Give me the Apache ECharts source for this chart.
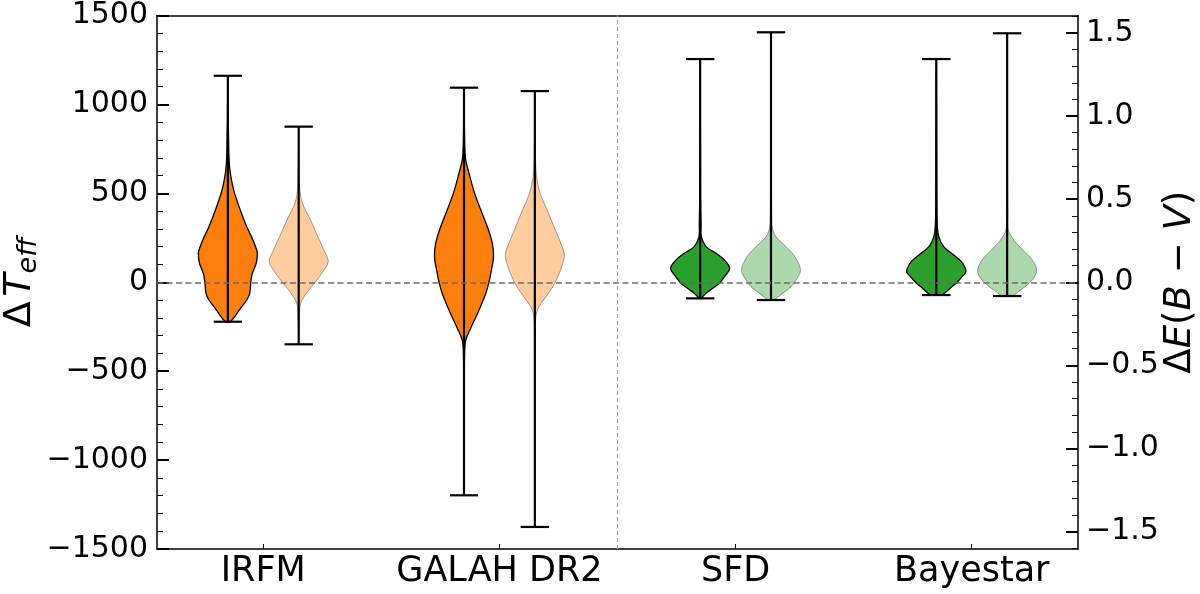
<!DOCTYPE html>
<html><head><meta charset="utf-8">
<script src="https://cdn.jsdelivr.net/npm/echarts@6/dist/echarts.min.js"></script>
<style>html,body{margin:0;padding:0;background:#fff}#c{width:1200px;height:594px}</style>
</head><body><div id="c"></div>
<script>
// ---- data ----
const categories = ['IRFM', 'GALAH DR2', 'SFD', 'Bayestar'];
const positions = [1, 2, 3, 4];
const leftTicks = [-1500, -1000, -500, 0, 500, 1000, 1500];
const rightTicks = [-1.5, -1.0, -0.5, 0, 0.5, 1.0, 1.5];
const rightMinorTicks = [-1.6,-1.4,-1.3,-1.2,-1.1,-0.9,-0.8,-0.7,-0.6,-0.4,-0.3,-0.2,-0.1,
  0.1,0.2,0.3,0.4,0.6,0.7,0.8,0.9,1.1,1.2,1.3,1.4,1.6];

// violin profiles: [value, relative half-width (1 = widest)]
const irfmDark = [[1161,0],[950,0.01],[800,0.025],[700,0.04],[631,0.07],[560,0.14],[500,0.23],[406,0.42],
  [312,0.64],[238,0.85],[190,0.96],[163,1.0],[106,0.96],[50,0.83],[3,0.78],[-62,0.74],[-100,0.64],
  [-137,0.47],[-170,0.33],[-194,0.23],[-222,0.07]];
const irfmLight = [[875,0],[700,0.01],[600,0.02],[519,0.04],[444,0.13],[350,0.4],[256,0.65],[172,0.88],
  [116,1.0],[59,0.82],[3,0.57],[-62,0.26],[-118,0.07],[-173,0.025],[-250,0.01],[-349,0]];
const galahDark = [[1094,0],[900,0.01],[744,0.03],[687,0.06],[594,0.2],[500,0.36],[406,0.57],[312,0.79],
  [219,0.96],[144,1.0],[69,0.93],[3,0.85],[-62,0.74],[-156,0.51],[-250,0.25],[-325,0.06],[-398,0.02],
  [-600,0.008],[-900,0.004],[-1198,0]];
const galahLight = [[1075,0],[850,0.01],[687,0.025],[594,0.06],[500,0.18],[406,0.42],[312,0.65],[219,0.88],
  [153,1.0],[87,0.91],[31,0.78],[-25,0.61],[-81,0.38],[-137,0.14],[-194,0.035],[-300,0.015],[-600,0.006],
  [-1000,0.003],[-1376,0]];
const sfdDark = [[1.343,0],[0.9,0.008],[0.5,0.015],[0.35,0.03],[0.274,0.04],[0.214,0.2],[0.174,0.54],
  [0.134,0.82],[0.084,1.0],[0.033,0.82],[-0.006,0.65],[-0.036,0.43],[-0.066,0.2],[-0.097,0.03]];
const sfdLight = [[1.504,0],[1.0,0.008],[0.6,0.015],[0.4,0.025],[0.334,0.04],[0.274,0.17],[0.214,0.51],
  [0.154,0.81],[0.074,1.0],[0.014,0.85],[-0.027,0.68],[-0.066,0.4],[-0.097,0.17],[-0.107,0.05]];
const bayDark = [[1.343,0],[0.9,0.008],[0.5,0.015],[0.334,0.035],[0.27,0.09],[0.214,0.25],[0.164,0.59],
  [0.124,0.85],[0.084,0.98],[0.06,1.0],[0.033,0.87],[-0.006,0.67],[-0.036,0.47],[-0.063,0.3],[-0.077,0.17]];
const bayLight = [[1.498,0],[1.0,0.008],[0.6,0.015],[0.4,0.025],[0.314,0.04],[0.254,0.23],[0.194,0.53],
  [0.134,0.85],[0.074,1.0],[0.024,0.9],[-0.016,0.68],[-0.047,0.45],[-0.077,0.23],[-0.083,0.12]];

// extrema [min, max]
const irfmDarkRange = [-222, 1161];
const irfmLightRange = [-349, 875];
const galahDarkRange = [-1198, 1094];
const galahLightRange = [-1376, 1075];
const sfdDarkRange = [-0.097, 1.343];
const sfdLightRange = [-0.107, 1.504];
const bayDarkRange = [-0.077, 1.343];
const bayLightRange = [-0.083, 1.498];

// ---- styling / layout ----
const FONT = 'DejaVu Sans';
const HALF = 0.125, CAP = 0.06, OFF = 0.15;
const ORANGE = '#ff7f0e', ORANGE_L = 'rgba(255,127,14,0.4)';
const GREEN = '#2ca02c', GREEN_L = 'rgba(44,160,44,0.4)';
const EDGE_L = 'rgba(0,0,0,0.35)';
const violins = [
  {pos: positions[0] - OFF, prof: irfmDark, range: irfmDarkRange, y: 0, fill: ORANGE, edge: '#000', ew: 1.3},
  {pos: positions[0] + OFF, prof: irfmLight, range: irfmLightRange, y: 0, fill: ORANGE_L, edge: EDGE_L, ew: 1},
  {pos: positions[1] - OFF, prof: galahDark, range: galahDarkRange, y: 0, fill: ORANGE, edge: '#000', ew: 1.3},
  {pos: positions[1] + OFF, prof: galahLight, range: galahLightRange, y: 0, fill: ORANGE_L, edge: EDGE_L, ew: 1},
  {pos: positions[2] - OFF, prof: sfdDark, range: sfdDarkRange, y: 1, fill: GREEN, edge: '#000', ew: 1.3},
  {pos: positions[2] + OFF, prof: sfdLight, range: sfdLightRange, y: 1, fill: GREEN_L, edge: EDGE_L, ew: 1},
  {pos: positions[3] - OFF, prof: bayDark, range: bayDarkRange, y: 1, fill: GREEN, edge: '#000', ew: 1.3},
  {pos: positions[3] + OFF, prof: bayLight, range: bayLightRange, y: 1, fill: GREEN_L, edge: EDGE_L, ew: 1}
];

const minus = s => String(s).replace('-', '\u2212');

const series = violins.map(vl => ({
  type: 'custom',
  xAxisIndex: 0,
  yAxisIndex: vl.y,
  data: [[vl.pos, vl.range[1]]],
  z: 2,
  silent: true,
  renderItem: function (params, api) {
    const pts = [];
    vl.prof.forEach(p => pts.push(api.coord([vl.pos + p[1] * HALF, p[0]])));
    for (let i = vl.prof.length - 1; i >= 0; i--) {
      const p = vl.prof[i];
      pts.push(api.coord([vl.pos - p[1] * HALF, p[0]]));
    }
    const top = api.coord([vl.pos, vl.range[1]]);
    const bot = api.coord([vl.pos, vl.range[0]]);
    const tl = api.coord([vl.pos - CAP, vl.range[1]]), tr = api.coord([vl.pos + CAP, vl.range[1]]);
    const bl = api.coord([vl.pos - CAP, vl.range[0]]), br = api.coord([vl.pos + CAP, vl.range[0]]);
    return {
      type: 'group',
      children: [
        {type: 'polygon', shape: {points: pts, smooth: 0.35}, style: {fill: vl.fill, stroke: vl.edge, lineWidth: vl.ew}},
        {type: 'line', shape: {x1: top[0], y1: top[1], x2: bot[0], y2: bot[1]}, style: {stroke: '#000', lineWidth: 2.2}},
        {type: 'line', shape: {x1: tl[0], y1: tl[1], x2: tr[0], y2: tr[1]}, style: {stroke: '#000', lineWidth: 2.2}},
        {type: 'line', shape: {x1: bl[0], y1: bl[1], x2: br[0], y2: br[1]}, style: {stroke: '#000', lineWidth: 2.2}}
      ]
    };
  }
}));

// reference lines
series.push({
  type: 'line', xAxisIndex: 0, yAxisIndex: 0, data: [], z: 5, silent: true,
  markLine: {
    silent: true, symbol: 'none', label: {show: false}, animation: false,
    data: [
      {yAxis: 0, lineStyle: {color: '#6a6a6a', width: 1.5, type: [6, 3.5]}},
      {xAxis: 2.5, lineStyle: {color: '#a8a8a8', width: 1.2, type: [4, 3]}}
    ]
  }
});

const chart = echarts.init(document.getElementById('c'), null, {renderer: 'canvas'});
chart.setOption({
  animation: false,
  backgroundColor: '#fff',
  textStyle: {fontFamily: FONT},
  grid: {left: 157, right: 122, top: 15.5, bottom: 45, outerBoundsMode: 'none', containLabel: false},
  xAxis: [
    {
      type: 'value', min: 0.55, max: 4.45, position: 'bottom',
      axisLine: {show: true, onZero: false, lineStyle: {color: '#000', width: 1.5}},
      axisTick: {show: true, inside: true, length: 5, customValues: positions, lineStyle: {color: '#000', width: 1}},
      axisLabel: {show: true, customValues: positions, formatter: v => categories[Math.round(v) - 1] || '',
        fontSize: 35, color: '#000', fontFamily: FONT, margin: 5},
      splitLine: {show: false}
    },
    {
      type: 'value', min: 0.55, max: 4.45, position: 'top',
      axisLine: {show: true, onZero: false, lineStyle: {color: '#000', width: 1.5}},
      axisTick: {show: false}, axisLabel: {show: false}, splitLine: {show: false}
    }
  ],
  yAxis: [
    {
      type: 'value', min: leftTicks[0], max: leftTicks[leftTicks.length - 1], interval: 500, position: 'left',
      axisLine: {show: true, onZero: false, lineStyle: {color: '#000', width: 1.5}},
      axisTick: {show: true, inside: true, length: 12, lineStyle: {color: '#000', width: 2}},
      minorTick: {show: true, splitNumber: 5, length: 6, lineStyle: {color: '#000', width: 1}},
      axisLabel: {fontSize: 30, color: '#000', fontFamily: FONT, margin: 9, formatter: v => minus(v)},
      splitLine: {show: false}, minorSplitLine: {show: false},
      name: '{a|\u0394}{g| }{t|T}{s|eff}',
      nameLocation: 'middle', nameRotate: 90, nameGap: 115, nameMoveOverlap: false,
      nameTextStyle: {
        fontFamily: FONT, color: '#000',
        rich: {
          a: {fontSize: 38, fontFamily: FONT, color: '#000', lineHeight: 44},
          g: {fontSize: 14, fontFamily: FONT, lineHeight: 44},
          t: {fontSize: 38, fontFamily: FONT, fontStyle: 'italic', color: '#000', lineHeight: 44},
          s: {fontSize: 27, fontFamily: FONT, fontStyle: 'italic', color: '#000', lineHeight: 26, verticalAlign: 'bottom'}
        }
      }
    },
    {
      type: 'value', min: -1.605, max: 1.605, position: 'right',
      axisLine: {show: true, onZero: false, lineStyle: {color: '#000', width: 1.5}},
      axisTick: {show: true, inside: true, length: 12, customValues: rightTicks, lineStyle: {color: '#000', width: 2}},
      axisLabel: {fontSize: 30, color: '#000', fontFamily: FONT, margin: 8, customValues: rightTicks,
        formatter: v => minus(Number(v).toFixed(1))},
      splitLine: {show: false},
      name: '{a|\u0394}{i|E}{a|(}{i|B}{a| \u2212 }{i|V}{a|)}',
      nameLocation: 'middle', nameRotate: 90, nameGap: 84, nameMoveOverlap: false,
      nameTextStyle: {
        fontFamily: FONT, color: '#000',
        rich: {
          a: {fontSize: 37, fontFamily: FONT, color: '#000'},
          i: {fontSize: 37, fontFamily: FONT, fontStyle: 'italic', color: '#000'}
        }
      }
    },
    {
      type: 'value', min: -1.605, max: 1.605, position: 'right',
      axisLine: {show: false},
      axisTick: {show: true, inside: true, length: 6, customValues: rightMinorTicks, lineStyle: {color: '#000', width: 1}},
      axisLabel: {show: false}, splitLine: {show: false}
    }
  ],
  series: series
});
</script>
</body></html>
